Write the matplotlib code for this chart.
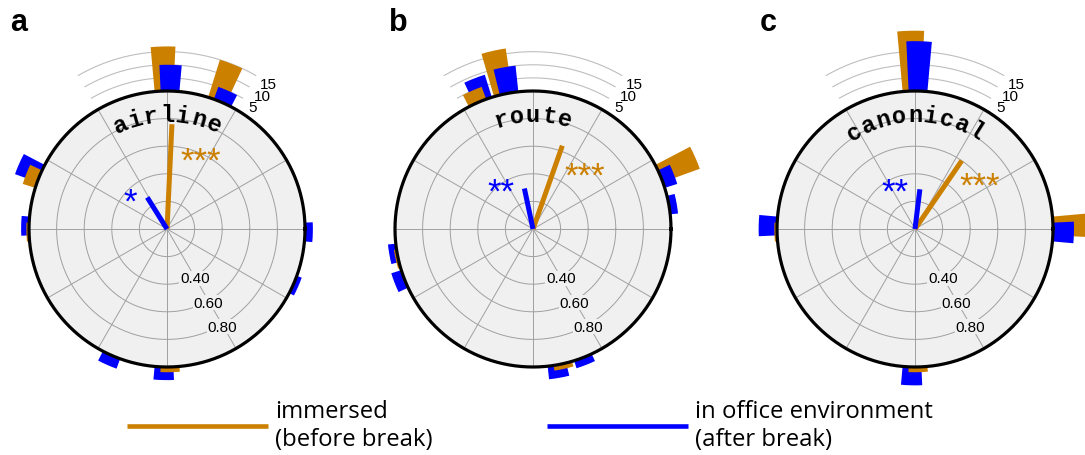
import numpy as np
import matplotlib.pyplot as plt
from matplotlib.lines import Line2D
from matplotlib.transforms import offset_copy

# ---------------------------------------------------------------- data
panel_tags = ['a', 'b', 'c']
panel_names = ['airline', 'route', 'canonical']

# circular histograms: bin centres (degrees) and counts
imm_bins = [[90, 67.5, 157.5, 180, 270],
            [101.25, 112.5, 22.5, 191.25, 281.25],
            [90, 0, 180, 270]]
imm_counts = [[17, 15, 5, 1, 2],
              [17, 5, 15, 1, 2],
              [23, 13, 1, 2]]
off_bins = [[90, 67.5, 157.5, 180, 0, 337.5, 247.5, 270],
            [101.25, 112.5, 22.5, 11.25, 191.25, 202.5, 281.25, 292.5],
            [90, 0, 180, 270]]
off_counts = [[10, 5, 9, 3, 3, 2, 4, 5],
              [10, 9, 5, 3, 3, 4, 5, 3],
              [19, 8, 7, 7]]

# mean resultant vectors (direction in degrees, length)
imm_mean_angle = [87.3, 70.6, 55.6]
imm_mean_len = [0.76, 0.64, 0.60]
off_mean_angle = [122.0, 102.0, 83.0]
off_mean_len = [0.27, 0.30, 0.29]

imm_sig = ['***', '***', '***']
off_sig = ['*', '**', '**']

r_ticks = [0.2, 0.4, 0.6, 0.8]
r_tick_labels = ['0.40', '0.60', '0.80']
r_tick_label_vals = [0.4, 0.6, 0.8]
count_ticks = [5, 10, 15]

legend_labels = ['immersed\n(before break)', 'in office environment\n(after break)']

# ---------------------------------------------------------------- style
ORANGE = '#CC8000'
BLUE = '#0000FF'
DISK = '#F0F0F0'
GRID = '#A0A0A0'
ARC = '#BEBEBE'

FIG_W, FIG_H, DPI = 10.85, 4.56, 100
W, H = FIG_W * DPI, FIG_H * DPI
R_PX = 138.0          # pixel radius of the unit circle
RMAX = 1.6
COUNT_SCALE = 0.019   # radial units per histogram count
BAR_W = 7.8           # bar width, degrees
BAR_SHIFT = 1.25      # angular offset between the two groups
centres_px = [(167, 230), (533, 230), (915, 230)]

# significance marker positions (theta deg, r)
imm_sig_pos = [(66.4, 0.617), (50.5, 0.592), (39.2, 0.608)]
off_sig_pos = [(135.0, 0.379), (124.2, 0.412), (113.0, 0.370)]
tag_pos_px = [(19, 23), (398, 23), (768, 23)]
count_lab_pos = [(54.8, 1.082), (54.5, 1.184), (55.1, 1.280)]

STAR_FS = 25
star_drop = 0.57 * STAR_FS * DPI / 72.0

fig = plt.figure(figsize=(FIG_W, FIG_H), dpi=DPI)
fig.patch.set_facecolor('white')

half = R_PX * RMAX
t = np.linspace(0, 2 * np.pi, 721)

for i in range(3):
    cx, cy = centres_px[i]
    ax = fig.add_axes([(cx - half) / W, (H - cy - half) / H, 2 * half / W, 2 * half / H],
                      projection='polar')
    ax.set_ylim(0, RMAX)
    ax.grid(False)
    ax.set_xticks([])
    ax.set_yticks([])
    ax.spines['polar'].set_visible(False)
    ax.patch.set_visible(False)

    # disk, rings and spokes
    ax.fill_between(t, 0, 1, color=DISK, lw=0, zorder=0)
    for rr in r_ticks:
        ax.plot(t, np.full_like(t, rr), color=GRID, lw=0.7, zorder=1)
    for a in range(0, 360, 30):
        ax.plot([np.deg2rad(a)] * 2, [0, 1], color=GRID, lw=0.7, zorder=1)

    # count reference arcs above the disk
    ta = np.deg2rad(np.linspace(60, 120, 200))
    for c, (lth, lr) in zip(count_ticks, count_lab_pos):
        rr = 1 + c * COUNT_SCALE
        ax.plot(ta, np.full_like(ta, rr), color=ARC, lw=0.8, zorder=1)
        ax.text(np.deg2rad(lth), lr, str(c), fontsize=11, family='Liberation Sans',
                ha='center', va='center', zorder=8)

    # histogram bars (shorter bars in front)
    bars = [(b + BAR_SHIFT, c, ORANGE) for b, c in zip(imm_bins[i], imm_counts[i])]
    bars += [(b - BAR_SHIFT, c, BLUE) for b, c in zip(off_bins[i], off_counts[i])]
    bars.sort(key=lambda x: -x[1])
    for k, (ang, c, col) in enumerate(bars):
        ax.bar(np.deg2rad(ang), c * COUNT_SCALE, width=np.deg2rad(BAR_W), bottom=1.0,
               color=col, lw=0, zorder=3 + 0.01 * k)

    # outer circle
    ax.plot(t, np.ones_like(t), color='black', lw=2.3, zorder=6)

    # radial tick labels
    for lab, v in zip(r_tick_labels, r_tick_label_vals):
        ax.text(np.deg2rad(-60.5), v + 0.012, lab, fontsize=11, family='Liberation Sans',
                ha='center', va='center', zorder=4,
                bbox=dict(boxstyle='square,pad=0.05', fc=DISK, ec='none'))

    # mean vectors
    ax.plot([0, np.deg2rad(imm_mean_angle[i])], [0, imm_mean_len[i]], color=ORANGE,
            lw=3.6, solid_capstyle='butt', zorder=5)
    ax.plot([0, np.deg2rad(off_mean_angle[i])], [0, off_mean_len[i]], color=BLUE,
            lw=3.6, solid_capstyle='butt', zorder=5)

    # significance markers
    tr = offset_copy(ax.transData, fig=fig, x=0, y=-star_drop, units='dots')
    th, rr = imm_sig_pos[i]
    ax.text(np.deg2rad(th), rr, imm_sig[i], color=ORANGE, fontsize=STAR_FS,
            family='Liberation Sans', ha='center', va='baseline', transform=tr, zorder=7)
    th, rr = off_sig_pos[i]
    ax.text(np.deg2rad(th), rr, off_sig[i], color=BLUE, fontsize=STAR_FS,
            family='Liberation Sans', ha='center', va='baseline', transform=tr, zorder=7)

    # curved panel title inside the circle
    word = panel_names[i]
    n = len(word)
    for j, ch in enumerate(word):
        ang = 90 + (n - 1) / 2 * 8 - j * 8
        ax.text(np.deg2rad(ang), 0.785, ch, fontsize=17, family='Liberation Mono',
                fontweight='bold', ha='center', va='baseline', rotation=ang - 90,
                rotation_mode='anchor', zorder=7)

    # panel letter
    tx, ty = tag_pos_px[i]
    fig.text(tx / W, 1 - ty / H, panel_tags[i], fontsize=22, fontweight='bold',
             family='Liberation Sans', ha='center', va='center')

# legend entries
LEG_FS = 17.2
leg_specs = [(ORANGE, legend_labels[0], 127), (BLUE, legend_labels[1], 547)]
for col, lab, x0 in leg_specs:
    h = Line2D([], [], color=col, lw=3.3, solid_capstyle='butt')
    fig.legend(handles=[h], labels=[lab], loc='center left',
               bbox_to_anchor=(x0 / W, 1 - 426 / H), frameon=False,
               handlelength=141 / (LEG_FS * DPI / 72), handletextpad=0.3,
               borderpad=0, borderaxespad=0, prop=dict(family='Open Sans', size=LEG_FS),
               labelspacing=0.2)

fig.savefig('out.png', dpi=DPI, facecolor='white')
